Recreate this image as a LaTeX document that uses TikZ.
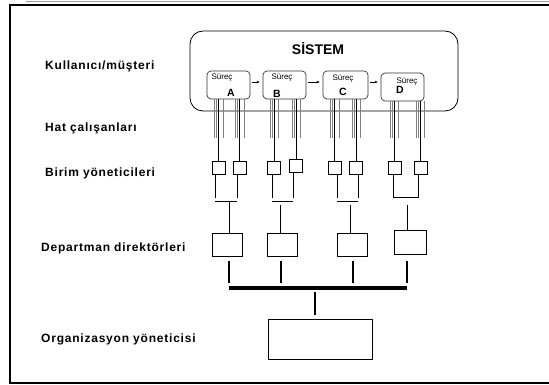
\documentclass[tikz,border=0pt]{standalone}
\usepackage{fontspec}
\setmainfont{Liberation Sans}
\newfontfamily\lblfont[LetterSpace=6.5]{Liberation Sans}
\usetikzlibrary{arrows.meta}
\tikzset{
  lbl/.style={anchor=base west,inner sep=0pt,font=\lblfont\bfseries\fontsize{12}{14}\selectfont},
  proc/.style={draw=black!80,line width=0.7pt,rounded corners=4pt,minimum width=43pt,minimum height=28pt,inner sep=0pt},
  sur/.style={inner sep=0pt,font=\fontsize{8}{9}\selectfont},
  letr/.style={inner sep=0pt,font=\bfseries\fontsize{10.5}{12}\selectfont},
  unitbox/.style={draw,line width=0.7pt,minimum size=13pt,inner sep=0pt},
  deptbox/.style={draw,line width=0.7pt,minimum width=30pt,minimum height=23pt,inner sep=0pt},
  staff/.style={draw=black!50,line width=0.6pt},
  boss/.style={line width=1pt},
  heavy/.style={line width=2pt},
  flow/.style={-{Stealth[length=3pt,width=2.6pt]},line width=0.5pt}
}
\begin{document}
\begin{tikzpicture}[x=1pt,y=-1pt]
\useasboundingbox (0,0) rectangle (549,385);
\draw[black!40,line width=1pt] (26,1.5)--(549,1.5);
\draw[line width=2pt] (549,5)--(10,5)--(10,382.5)--(549,382.5);

\node[lbl] (kul) at (45,70) {Kullanıcı/müşteri};
\node[lbl] (hat) at (45,132) {Hat çalışanları};
\node[lbl] (bir) at (45,176) {Birim yöneticileri};
\node[lbl] (dep) at (41,251) {Departman direktörleri};
\node[lbl] (org) at (41,342) {Organizasyon yöneticisi};

\node[draw,line width=0.8pt,rounded corners=13pt,minimum width=268pt,minimum height=80pt] (sis) at (324,71) {};
\node[font=\bfseries\fontsize{14}{16}\selectfont,inner sep=0pt,anchor=base] (sisT) at (318,55) {SİSTEM};

\node[proc] (pA) at (228.5,85) {};
\node[proc] (pB) at (284.5,85) {};
\node[proc,minimum width=45pt] (pC) at (345.5,85) {};
\node[proc] (pD) at (402.5,87) {};
\node[sur] (sA) at (222,78) {Süreç};
\node[sur] (sB) at (282,78) {Süreç};
\node[sur] (sC) at (343,79) {Süreç};
\node[sur] (sD) at (407,82) {Süreç};
\node[letr] (lA) at (231,93) {A};
\node[letr] (lB) at (277,94) {B};
\node[letr] (lC) at (343,92) {C};
\node[letr] (lD) at (400,90) {D};
\draw[flow,shorten <=2pt,shorten >=3pt] ([yshift=3pt]pA.east)--([yshift=3pt]pB.west);
\draw[flow,shorten <=2pt,shorten >=3pt] ([yshift=3pt]pB.east)--([yshift=3pt]pC.west);
\draw[flow,shorten <=2pt,shorten >=3pt] ([yshift=3pt]pC.east)--([yshift=3pt]pC.east -| pD.west);

\node[unitbox] (uA1) at (218.5,167.5) {};
\node[unitbox] (uA2) at (239.5,167.5) {};
\node[unitbox] (uB1) at (274,167.5) {};
\node[unitbox] (uB2) at (296,165.5) {};
\node[unitbox] (uC1) at (334.5,167.5) {};
\node[unitbox] (uC2) at (356,167.5) {};
\node[unitbox] (uD1) at (394.5,167.5) {};
\node[unitbox] (uD2) at (420.5,167.5) {};

\foreach \x in {214.5,216.5,223,235.5,237.5,244} \draw[staff] (\x,99)--++(0,39);
\foreach \x in {270,272,278.5,292,294,300.5} \draw[staff] (\x,99)--++(0,39);
\foreach \x in {330.5,332.5,339,352,354,360.5} \draw[staff] (\x,99)--++(0,39);
\foreach \x in {390.5,392.5,398.5,416.5,418.5,424} \draw[staff] (\x,101)--++(0,37);
\draw[boss]
  (uA1.north |- pA.south)--(uA1.north)
  (uA2.north |- pA.south)--(uA2.north)
  (uB1.north |- pB.south)--(uB1.north)
  (uB2.north |- pB.south)--(uB2.north)
  (uC1.north |- pC.south)--(uC1.north)
  (uC2.north |- pC.south)--(uC2.north)
  (uD1.north |- pD.south)--(uD1.north)
  (uD2.north |- pD.south)--(uD2.north);

\coordinate (mA) at (229,201);
\coordinate (mB) at (280,201);
\coordinate (mC) at (350,201);
\coordinate (mD) at (407,197);
\node[deptbox] (dA) at (227,244.5) {};
\node[deptbox] (dB) at (282,244.5) {};
\node[deptbox] (dC) at (352,244.5) {};
\node[deptbox,minimum width=32pt,minimum height=24pt] (dD) at (410,242) {};
\draw[line width=0.8pt]
  (215,174)--(215,198) (237,174)--(237,198) (215,201)--(237,201)
  (272,174)--(272,198) (293,172)--(293,198) (272,201)--(293,201)
  (337,174)--(337,198) (358,174)--(358,198) (337,201)--(358,201)
  (393,174)--(393,197)--(418,197)--(418,174)
  (mA)--(mA |- dA.north)
  ([yshift=-4pt]mB)--(mB |- dB.north)
  ([yshift=-4pt]mC)--(mC |- dC.north)
  ([yshift=-8pt]mD)--(mD |- dD.north);

\node[draw,line width=0.7pt,minimum width=104pt,minimum height=40pt] (orgB) at (320,339) {};
\coordinate (tA) at (229,283);
\coordinate (tB) at (281,283);
\coordinate (tC) at (353,283);
\coordinate (tD) at (407,283);
\coordinate (hub) at (315,288);
\draw[heavy]
  (tA |- dA.south) ++(0,5)--(tA)
  (tB |- dB.south) ++(0,5)--(tB)
  (tC |- dC.south) ++(0,5)--(tC)
  (tD |- dD.south) ++(0,7)--(tD);
\draw[line width=3.2pt] (tA |- hub)--(tD |- hub);
\draw[heavy,shorten <=4pt,shorten >=4pt] (hub)--(hub |- orgB.north);
\end{tikzpicture}
\end{document}
